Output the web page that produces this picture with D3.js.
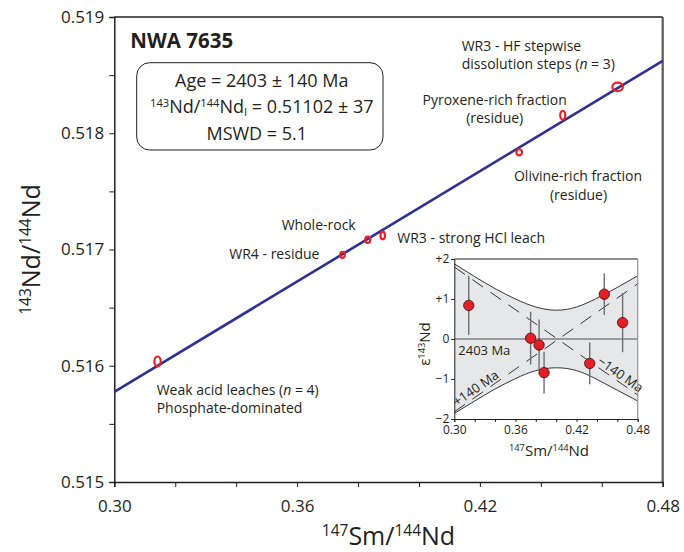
<!DOCTYPE html>
<html>
<head>
<meta charset="utf-8">
<script src="https://cdn.jsdelivr.net/npm/d3@7"></script>
<style>
  body { margin: 0; background: #fff; }
  svg { display: block; font-family: "Open Sans", sans-serif; fill: #231f20; }
  .axis text { font-family: "Open Sans", sans-serif; fill: #231f20; }
  .axis path, .axis line { stroke: #231f20; }
</style>
</head>
<body>
<div id="main"></div>
<script>
// 147Sm/144Nd of each fraction (same samples in main plot and inset)
const sampleNames = ['Weak acid leaches', 'WR4 - residue', 'Whole-rock', 'WR3 - strong HCl leach',
  'Olivine-rich fraction', 'Pyroxene-rich fraction', 'WR3 - HF stepwise'];
const smNd = [0.3142, 0.3749, 0.3832, 0.3881, 0.4329, 0.4472, 0.4652];
const ndNd = [0.516037, 0.516954, 0.517084, 0.517121, 0.517836, 0.518155, 0.518399];
// half-widths of the error ellipses
const smErr = [0.0014, 0.0011, 0.0012, 0.0011, 0.0013, 0.0012, 0.0021];
const ndErr = [0.000052, 0.000036, 0.000036, 0.000042, 0.000036, 0.000047, 0.000046];

// isochron end points
const isoX = [0.30, 0.48];
const isoY = [0.515775, 0.518622];

// inset: epsilon deviation from isochron
const epsVal = [0.84, 0.02, -0.15, -0.84, -0.61, 1.12, 0.41];
const epsErr = [0.74, 0.66, 0.64, 0.52, 0.52, 0.52, 0.74];
const envX = [0.30, 0.32, 0.34, 0.36, 0.38, 0.40, 0.42, 0.44, 0.46, 0.48];
const envUpper = [1.88, 1.56, 1.26, 1.00, 0.80, 0.72, 0.80, 1.02, 1.29, 1.58];
const envLower = [-1.86, -1.55, -1.25, -0.99, -0.79, -0.72, -0.79, -1.01, -1.28, -1.55];
const dashX = [0.30, 0.48];
const dashYoung = [1.80, -1.40];   // -140 Ma
const dashOld = [-1.82, 1.38];     // +140 Ma

const mainXTicks = [0.30, 0.32, 0.34, 0.36, 0.38, 0.40, 0.42, 0.44, 0.46, 0.48];
const mainXLabels = [0.30, 0.36, 0.42, 0.48];
const mainYTicks = [0.515, 0.5155, 0.516, 0.5165, 0.517, 0.5175, 0.518, 0.5185, 0.519];
const mainYLabels = [0.515, 0.516, 0.517, 0.518, 0.519];
const insetYTicks = [-2, -1, 0, 1, 2];
const insetYLabels = ['\u22122', '\u22121', '0', '+1', '+2'];

const width = 684;
const height = 552;
const margin = { top: 17, right: 21.3, bottom: 70, left: 114.3 };
const innerWidth = width - margin.left - margin.right;
const innerHeight = height - margin.top - margin.bottom;

const svg = d3.select('#main').append('svg')
    .attr('width', width)
    .attr('height', height);

// text with super/subscripts: parts = [[text, 'sup'|'sub'|'it'|undefined], ...]
const richText = (sel, parts, size) => {
  let shift = 0;
  parts.forEach(([t, kind]) => {
    const ts = sel.append('tspan').text(t);
    let target = 0;
    if (kind === 'sup') { ts.attr('font-size', size * 0.62); target = -size * 0.36; }
    else if (kind === 'sub') { ts.attr('font-size', size * 0.62); target = size * 0.16; }
    else if (kind === 'it') { ts.attr('font-style', 'italic'); }
    ts.attr('dy', target - shift);
    shift = target;
  });
  return sel;
};

const isLabel = (list, d) => list.some(v => Math.abs(v - d) < 1e-9);
const dropEmpty = axisG => axisG.selectAll('text').filter(function () { return this.textContent === ''; }).remove();

const xScale = d3.scaleLinear().domain([0.30, 0.48]).range([0, innerWidth]);
const yScale = d3.scaleLinear().domain([0.515, 0.519]).range([innerHeight, 0]);

const g = svg.append('g')
    .attr('transform', `translate(${margin.left},${margin.top})`);

// frame (top black, right grey)
g.append('line').attr('x1', 0).attr('x2', innerWidth).attr('y1', 0).attr('y2', 0)
    .attr('stroke', '#231f20').attr('stroke-width', 1.3);
g.append('line').attr('x1', innerWidth).attr('x2', innerWidth).attr('y1', 0).attr('y2', innerHeight)
    .attr('stroke', '#58595b').attr('stroke-width', 2.2);

const xAxis = d3.axisBottom(xScale)
    .tickValues(mainXTicks)
    .tickSize(5)
    .tickPadding(13)
    .tickFormat(d => isLabel(mainXLabels, d) ? d3.format('.2f')(d) : '');
const xAxisG = g.append('g').attr('class', 'axis')
    .attr('transform', `translate(0,${innerHeight})`)
    .call(xAxis);
xAxisG.selectAll('text').attr('font-size', 17);
xAxisG.select('.domain').attr('stroke-width', 1.5);
dropEmpty(xAxisG);

const yAxis = d3.axisLeft(yScale)
    .tickValues(mainYTicks)
    .tickSize(5)
    .tickPadding(5)
    .tickFormat(d => isLabel(mainYLabels, d) ? d3.format('.3f')(d) : '');
const yAxisG = g.append('g').attr('class', 'axis').call(yAxis);
yAxisG.selectAll('text').attr('font-size', 17);
yAxisG.select('.domain').attr('stroke-width', 1.5);
dropEmpty(yAxisG);

// axis titles
richText(g.append('text')
    .attr('x', innerWidth / 2)
    .attr('y', innerHeight + 63)
    .attr('text-anchor', 'middle')
    .attr('font-size', 25),
  [['147', 'sup'], ['Sm'], ['/'], ['144', 'sup'], ['Nd']], 25);

richText(g.append('text')
    .attr('transform', `translate(${-74},${innerHeight / 2}) rotate(-90)`)
    .attr('text-anchor', 'middle')
    .attr('font-size', 25),
  [['143', 'sup'], ['Nd'], ['/'], ['144', 'sup'], ['Nd']], 25);

// isochron
g.append('line')
    .attr('x1', xScale(isoX[0])).attr('y1', yScale(isoY[0]))
    .attr('x2', xScale(isoX[1])).attr('y2', yScale(isoY[1]))
    .attr('stroke', '#2e3192')
    .attr('stroke-width', 2.6);

// error ellipses
g.selectAll('ellipse.pt').data(smNd).enter().append('ellipse')
    .attr('class', 'pt')
    .attr('cx', d => xScale(d))
    .attr('cy', (d, i) => yScale(ndNd[i]))
    .attr('rx', (d, i) => xScale(0.30 + smErr[i]) - xScale(0.30) - 1.1)
    .attr('ry', (d, i) => yScale(0.515) - yScale(0.515 + ndErr[i]) - 1.1)
    .attr('fill', 'none')
    .attr('stroke', '#ec2027')
    .attr('stroke-width', 2.2);

// title
g.append('text')
    .attr('x', 16).attr('y', 31)
    .attr('font-size', 20.5)
    .attr('font-weight', 'bold')
    .text('NWA 7635');

// results box
g.append('rect')
    .attr('x', 22.4).attr('y', 45.7)
    .attr('width', 246.3).attr('height', 87.3)
    .attr('rx', 13).attr('ry', 13)
    .attr('fill', 'none')
    .attr('stroke', '#231f20')
    .attr('stroke-width', 1);
const boxCx = 147.5;
g.append('text').attr('x', boxCx).attr('y', 70.3)
    .attr('text-anchor', 'middle').attr('font-size', 18)
    .text('Age = 2403 \u00b1 140 Ma');
richText(g.append('text').attr('x', boxCx).attr('y', 96.3)
    .attr('text-anchor', 'middle').attr('font-size', 18),
  [['143', 'sup'], ['Nd/'], ['144', 'sup'], ['Nd'], ['I', 'sub'], [' = 0.51102 \u00b1 37']], 18);
g.append('text').attr('x', boxCx - 5).attr('y', 123)
    .attr('text-anchor', 'middle').attr('font-size', 18)
    .text('MSWD = 5.1');

// sample annotations
const note = (x, y, parts, anchor) => richText(svg.append('text')
    .attr('x', x).attr('y', y)
    .attr('text-anchor', anchor || 'start')
    .attr('font-size', 14), parts, 14);
note(461.7, 50.7, [['WR3 - HF stepwise']]);
note(461.7, 69.3, [['dissolution steps ('], ['n', 'it'], [' = 3)']]);
note(494.7, 105, [['Pyroxene-rich fraction']], 'middle');
note(494.7, 123.3, [['(residue)']], 'middle');
note(578, 181, [['Olivine-rich fraction']], 'middle');
note(578.5, 200, [['(residue)']], 'middle');
note(281.7, 230, [['Whole-rock']]);
note(229.3, 259, [['WR4 - residue']]);
note(397.3, 243.3, [['WR3 - strong HCl leach']]);
note(156.7, 395, [['Weak acid leaches ('], ['n', 'it'], [' = 4)']]);
note(156.7, 413.3, [['Phosphate-dominated']]);

// ---------- inset ----------
const inset = { left: 454.3, top: 259, width: 183.4, height: 160 };
const ix = d3.scaleLinear().domain([0.30, 0.48]).range([0, inset.width]);
const iy = d3.scaleLinear().domain([-2, 2]).range([inset.height, 0]);
const ig = svg.append('g').attr('transform', `translate(${inset.left},${inset.top})`);

ig.append('clipPath').attr('id', 'insetClip')
  .append('rect').attr('width', inset.width).attr('height', inset.height);
const plotG = ig.append('g').attr('clip-path', 'url(#insetClip)');

const envData = envX.map((x, i) => ({ x, lo: envLower[i], hi: envUpper[i] }));
plotG.append('path')
    .attr('d', d3.area().x(d => ix(d.x)).y0(d => iy(d.lo)).y1(d => iy(d.hi)).curve(d3.curveNatural)(envData))
    .attr('fill', '#e6e7e8');
[d => d.hi, d => d.lo].forEach(acc => {
  plotG.append('path')
      .attr('d', d3.line().x(d => ix(d.x)).y(d => iy(acc(d))).curve(d3.curveNatural)(envData))
      .attr('fill', 'none').attr('stroke', '#231f20').attr('stroke-width', 0.9);
});
plotG.append('line')
    .attr('x1', 0).attr('x2', inset.width).attr('y1', iy(0)).attr('y2', iy(0))
    .attr('stroke', '#808285').attr('stroke-width', 1.6);
[dashYoung, dashOld].forEach(ys => {
  plotG.append('line')
      .attr('x1', ix(dashX[0])).attr('y1', iy(ys[0]))
      .attr('x2', ix(dashX[1])).attr('y2', iy(ys[1]))
      .attr('stroke', '#231f20').attr('stroke-width', 0.9)
      .attr('stroke-dasharray', '13,9');
});

const angleOf = ys => Math.atan2(iy(ys[1]) - iy(ys[0]), ix(dashX[1]) - ix(dashX[0])) * 180 / Math.PI;
const onLine = (ys, x) => [ix(x), iy(ys[0] + (ys[1] - ys[0]) * (x - dashX[0]) / (dashX[1] - dashX[0]))];
const dashLabel = (ys, x, txt) => {
  const [px, py] = onLine(ys, x);
  ig.append('text')
      .attr('transform', `translate(${px},${py}) rotate(${angleOf(ys)})`)
      .attr('text-anchor', 'middle')
      .attr('dy', -2.5)
      .attr('font-size', 13)
      .text(txt);
};
dashLabel(dashYoung, 0.459, '\u2212140 Ma');
dashLabel(dashOld, 0.325, '+140 Ma');

ig.append('text').attr('x', 4).attr('y', iy(0) + 15.5)
    .attr('font-size', 13).text('2403 Ma');

// error bars and points
ig.selectAll('line.err').data(smNd).enter().append('line')
    .attr('class', 'err')
    .attr('x1', d => ix(d)).attr('x2', d => ix(d))
    .attr('y1', (d, i) => iy(epsVal[i] + epsErr[i]))
    .attr('y2', (d, i) => iy(epsVal[i] - epsErr[i]))
    .attr('stroke', '#6d6e71').attr('stroke-width', 1.4);
ig.selectAll('circle').data(smNd).enter().append('circle')
    .attr('cx', d => ix(d))
    .attr('cy', (d, i) => iy(epsVal[i]))
    .attr('r', 5.2)
    .attr('fill', '#e31e24')
    .attr('stroke', '#3b1212')
    .attr('stroke-width', 0.8);

// inset frame & axes
ig.append('line').attr('x1', 0).attr('x2', inset.width).attr('y1', 0).attr('y2', 0)
    .attr('stroke', '#231f20').attr('stroke-width', 1.2);
ig.append('line').attr('x1', inset.width).attr('x2', inset.width).attr('y1', 0).attr('y2', inset.height)
    .attr('stroke', '#939598').attr('stroke-width', 1.2);
const ixAxisG = ig.append('g').attr('class', 'axis')
    .attr('transform', `translate(0,${inset.height})`)
    .call(d3.axisBottom(ix).tickValues(mainXTicks).tickSize(3).tickPadding(3)
      .tickFormat(d => isLabel(mainXLabels, d) ? d3.format('.2f')(d) : ''));
ixAxisG.selectAll('text').attr('font-size', 12);
dropEmpty(ixAxisG);
const iyAxisG = ig.append('g').attr('class', 'axis')
    .call(d3.axisLeft(iy).tickValues(insetYTicks).tickSize(3).tickPadding(2)
      .tickFormat((d, i) => insetYLabels[i]));
iyAxisG.selectAll('text').attr('font-size', 12);

richText(ig.append('text')
    .attr('x', inset.width / 2 + 3).attr('y', inset.height + 37)
    .attr('text-anchor', 'middle').attr('font-size', 15),
  [['147', 'sup'], ['Sm/'], ['144', 'sup'], ['Nd']], 15);
richText(ig.append('text')
    .attr('transform', `translate(${-24},${inset.height / 2 + 5}) rotate(-90)`)
    .attr('text-anchor', 'middle').attr('font-size', 15),
  [['\u03b5'], ['143', 'sup'], ['Nd']], 15);
</script>
</body>
</html>
